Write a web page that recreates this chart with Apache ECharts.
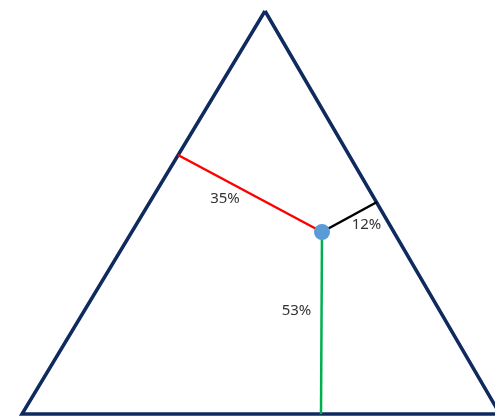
<!DOCTYPE html>
<html>
<head>
<meta charset="utf-8">
<script src="https://cdn.jsdelivr.net/npm/echarts@6/dist/echarts.min.js"></script>
<style>
  html, body { margin: 0; padding: 0; background: #fff; }
  #chart { width: 495px; height: 416px; }
</style>
</head>
<body>
<div id="chart"></div>
<script>
// diagram coordinates (y grows downward)
const vertices = [[265, 11], [22, 414], [500, 414]];
const point = [322, 232];
// feet of the three distance lines: red (left side), black (right side), green (base)
const feet = [[178, 155], [377, 202], [321, 414]];
const shares = ['35%', '12%', '53%'];

const lineColors = ['#ff0000', '#000000', '#00b050'];
const labelOffsets = [[-25, 5], [17, 8], [-25, -12]];

var chart = echarts.init(document.getElementById('chart'));

const segSeries = feet.map(function (f, i) {
    return {
        type: 'line',
        data: [point, f],
        symbol: 'none',
        silent: true,
        lineStyle: { color: lineColors[i], width: 2.5 },
        z: 3
    };
});

const labelData = feet.map(function (f, i) {
    return {
        value: [(point[0] + f[0]) / 2, (point[1] + f[1]) / 2],
        label: { offset: labelOffsets[i] }
    };
});

const option = {
    animation: false,
    grid: { left: 0, right: 0, top: 0, bottom: 0 },
    xAxis: { type: 'value', min: 0, max: 495, show: false },
    yAxis: { type: 'value', min: 0, max: 416, inverse: true, show: false },
    series: [
        {
            // triangle outline
            type: 'line',
            data: vertices.concat([vertices[0]]),
            symbol: 'none',
            silent: true,
            lineStyle: { color: '#0e2a5e', width: 3.5, join: 'miter' },
            z: 2
        }
    ].concat(segSeries).concat([
        {
            type: 'scatter',
            data: [point],
            symbolSize: 16,
            itemStyle: { color: '#5b9bd5', opacity: 1 },
            z: 5
        },
        {
            type: 'scatter',
            data: labelData,
            symbolSize: 0,
            itemStyle: { opacity: 1 },
            label: {
                show: true,
                position: 'inside',
                formatter: function (p) { return shares[p.dataIndex]; },
                fontFamily: 'Noto Sans',
                fontSize: 15,
                color: '#333333'
            },
            z: 6
        }
    ])
};

chart.setOption(option);
</script>
</body>
</html>
